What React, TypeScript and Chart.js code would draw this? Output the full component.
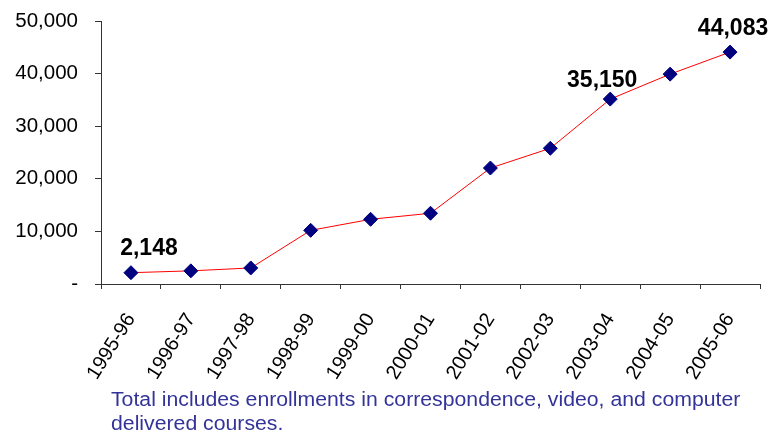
import React, { useEffect, useRef } from "react";
import { Chart, registerables } from "chart.js";

Chart.register(...registerables);

const categories = [
  "1995-96", "1996-97", "1997-98", "1998-99", "1999-00", "2000-01",
  "2001-02", "2002-03", "2003-04", "2004-05", "2005-06",
];
const enrollments = [2148, 2500, 3050, 10200, 12300, 13450, 22050, 25800, 35150, 39900, 44083];
const yTicks = [0, 10000, 20000, 30000, 40000, 50000];
const labelledIndices = [0, 8, 10];
const footnote = "Total includes enrollments in correspondence, video, and computer delivered courses.";

// pixel offsets of the value labels relative to their points (style, not data)
const labelOffsets: Record<number, [number, number]> = {
  0: [18, -18],
  8: [-8, -12],
  10: [3, -17],
};

const FONT = "'Liberation Sans', Arial, sans-serif";

const valueLabelPlugin = {
  id: "valueLabels",
  afterDatasetsDraw(chart: any) {
    const ctx = chart.ctx;
    const meta = chart.getDatasetMeta(0);
    ctx.save();
    ctx.font = `bold 23px ${FONT}`;
    ctx.fillStyle = "#000000";
    ctx.textAlign = "center";
    ctx.textBaseline = "alphabetic";
    labelledIndices.forEach((i) => {
      const pt = meta.data[i];
      const [dx, dy] = labelOffsets[i] || [0, -15];
      ctx.fillText(enrollments[i].toLocaleString("en-US"), pt.x + dx, pt.y + dy);
    });
    ctx.restore();
  },
};

export default function App() {
  const canvasRef = useRef<HTMLCanvasElement | null>(null);

  useEffect(() => {
    if (!canvasRef.current) return;
    const chart = new Chart(canvasRef.current, {
      type: "line",
      data: {
        labels: categories,
        datasets: [
          {
            data: enrollments,
            borderColor: "#ff0000",
            borderWidth: 1,
            pointStyle: "rectRot",
            pointRadius: 7,
            pointBackgroundColor: "#000080",
            pointBorderColor: "#000080",
            pointBorderWidth: 1,
            tension: 0,
            fill: false,
          },
        ],
      },
      options: {
        animation: false,
        responsive: false,
        maintainAspectRatio: false,
        layout: { autoPadding: false, padding: { left: 0, right: 16, top: 21, bottom: 0 } },
        plugins: {
          legend: { display: false },
          tooltip: { enabled: false },
          title: { display: false },
        },
        scales: {
          x: {
            type: "category",
            offset: true,
            grid: {
              offset: true,
              drawOnChartArea: false,
              drawTicks: true,
              tickLength: 5,
              color: "#333333",
            },
            border: { display: true, color: "#333333", width: 1 },
            ticks: {
              autoSkip: false,
              maxRotation: 58,
              minRotation: 58,
              padding: 20,
              color: "#000000",
              font: { family: FONT, size: 20 },
            },
            afterFit: (s: any) => {
              s.height = 149;
            },
          },
          y: {
            min: 0,
            max: 50000,
            afterBuildTicks: (s: any) => {
              s.ticks = yTicks.map((v) => ({ value: v }));
            },
            grid: {
              drawOnChartArea: false,
              drawTicks: true,
              tickLength: 6,
              color: "#333333",
            },
            border: { display: true, color: "#333333", width: 1 },
            ticks: {
              padding: 17,
              color: "#000000",
              font: { family: FONT, size: 20.5, lineHeight: 0.38 },
              callback: (v: any) => (Number(v) === 0 ? "-" : Number(v).toLocaleString("en-US")),
            },
            afterFit: (s: any) => {
              s.width = 101;
            },
          },
        },
      },
      plugins: [valueLabelPlugin],
    });
    return () => chart.destroy();
  }, []);

  return (
    <div
      style={{
        position: "fixed",
        left: 0,
        top: 0,
        width: 776,
        height: 433,
        background: "#ffffff",
        overflow: "hidden",
      }}
    >
      <canvas ref={canvasRef} width={776} height={433} style={{ position: "absolute", left: 0, top: 0 }} />
      <div
        style={{
          position: "absolute",
          left: 111,
          top: 388,
          width: 620,
          fontFamily: FONT,
          fontSize: 20,
          lineHeight: "23.5px",
          color: "#333399",
          whiteSpace: "normal",
          transform: "scaleX(1.062)",
          transformOrigin: "left top",
        }}
      >
        {footnote}
      </div>
    </div>
  );
}
